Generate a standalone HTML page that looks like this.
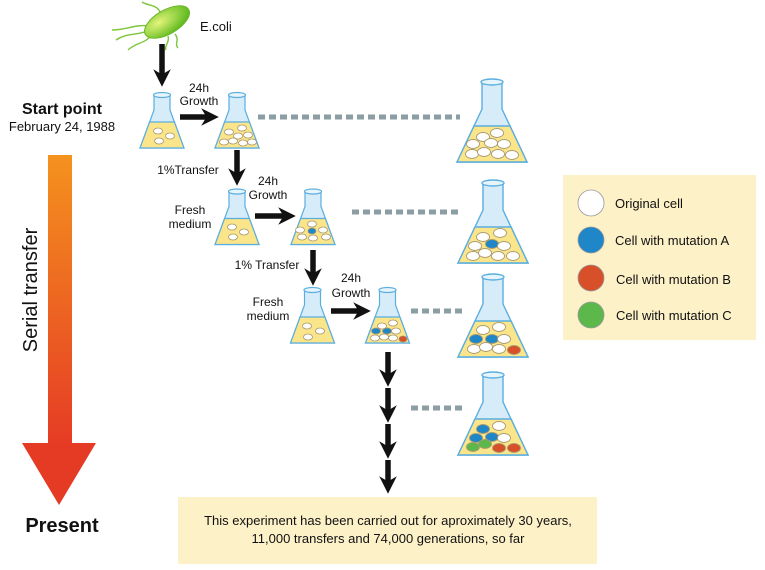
<!DOCTYPE html>
<html><head><meta charset="utf-8"><style>
html,body{margin:0;padding:0;background:#fff;}
svg{display:block;font-family:"Liberation Sans",Arial,sans-serif;}
</style></head><body>
<svg width="765" height="570" viewBox="0 0 765 570" xmlns="http://www.w3.org/2000/svg">
<defs>
<linearGradient id="ga" x1="0" y1="0" x2="0" y2="1"><stop offset="0" stop-color="#f5921e"/><stop offset="1" stop-color="#e53b25"/></linearGradient>
<radialGradient id="gb" cx="0.35" cy="0.35" r="0.7"><stop offset="0" stop-color="#e4f57a"/><stop offset="1" stop-color="#5cb81e"/></radialGradient>
<symbol id="sf" viewBox="0 0 44 56" overflow="visible">
<path d="M14,3 L14,18 L0,56 L44,56 L30,18 L30,3 Z" fill="#d6ecf8" stroke="#5aaee0" stroke-width="1.2"/>
<polygon points="9.6,30 34.4,30 44,56 0,56" fill="#fbe58a" stroke="#5aaee0" stroke-width="1.2"/>
<ellipse cx="22" cy="3" rx="8.5" ry="2.5" fill="#e6f4fb" stroke="#5aaee0" stroke-width="1.2"/>
</symbol>
<symbol id="bf" viewBox="0 0 70 83" overflow="visible">
<path d="M25,3 L25,30 L0,83 L70,83 L45,30 L45,3 Z" fill="#d6ecf8" stroke="#5aaee0" stroke-width="1.4"/>
<polygon points="17,47 53,47 70,83 0,83" fill="#fbe58a" stroke="#5aaee0" stroke-width="1.4"/>
<ellipse cx="35" cy="3" rx="11" ry="3" fill="#e6f4fb" stroke="#5aaee0" stroke-width="1.4"/>
</symbol>
<marker id="ah" viewBox="0 0 10 10" refX="5" refY="5" markerWidth="3.2" markerHeight="3.2" orient="auto"><path d="M0,0 L10,5 L0,10 L3,5 Z" fill="#111"/></marker>
</defs>

<rect x="48" y="155" width="24" height="290" fill="url(#ga)"/>
<polygon points="22,443 96,443 59,505" fill="#e53b25"/>
<text x="62" y="114" font-size="16" font-weight="bold" text-anchor="middle" fill="#111">Start point</text>
<text x="62" y="131" font-size="13" text-anchor="middle" fill="#111">February 24, 1988</text>
<text transform="translate(37,290) rotate(-90)" font-size="20" text-anchor="middle" fill="#111">Serial transfer</text>
<text x="62" y="532" font-size="20" font-weight="bold" text-anchor="middle" fill="#111">Present</text>

<g fill="none" stroke="#7cc63a" stroke-width="1.4">
<path d="M150,30 C138,36 128,32 116,40"/><path d="M148,26 C136,24 126,30 112,30"/><path d="M152,34 C146,44 136,42 128,50"/><path d="M175,34 C180,40 174,44 178,48"/><path d="M168,36 C170,42 164,46 166,50"/><path d="M160,12 C156,4 148,6 142,2"/>
</g>
<ellipse cx="167" cy="22" rx="25" ry="12" transform="rotate(-30 167 22)" fill="url(#gb)" stroke="#6cb52a" stroke-width="1"/>
<text x="200" y="31" font-size="13" fill="#111">E.coli</text>

<g stroke="#111" stroke-width="5.5" marker-end="url(#ah)">
<line x1="162" y1="44" x2="162" y2="78"/>
<line x1="180" y1="117" x2="210" y2="117"/>
<line x1="237" y1="150" x2="237" y2="177"/>
<line x1="255" y1="216" x2="287" y2="216"/>
<line x1="313" y1="250" x2="313" y2="277"/>
<line x1="331" y1="311" x2="362" y2="311"/>
<line x1="388" y1="352" x2="388" y2="378"/>
<line x1="388" y1="388" x2="388" y2="414"/>
<line x1="388" y1="424" x2="388" y2="450"/>
<line x1="388" y1="460" x2="388" y2="485"/>
</g>

<g stroke="#8a9ea4" stroke-width="5" stroke-dasharray="7,4">
<line x1="258" y1="117" x2="460" y2="117"/>
<line x1="352" y1="212" x2="460" y2="212"/>
<line x1="411" y1="311" x2="462" y2="311"/>
<line x1="411" y1="408" x2="462" y2="408"/>
</g>

<g font-size="12" fill="#111" text-anchor="middle">
<text x="199" y="92">24h</text><text x="199" y="105">Growth</text>
<text x="188" y="174">1%Transfer</text>
<text x="190" y="214">Fresh</text><text x="190" y="228">medium</text>
<text x="268" y="185">24h</text><text x="268" y="199">Growth</text>
<text x="267" y="269">1% Transfer</text>
<text x="268" y="306">Fresh</text><text x="268" y="320">medium</text>
<text x="351" y="282">24h</text><text x="351" y="297">Growth</text>
</g>

<use href="#sf" x="140" y="92" width="44" height="56"/>
<use href="#sf" x="215" y="92" width="44" height="56"/>
<use href="#sf" x="215" y="188" width="44" height="57"/>
<use href="#sf" x="291" y="188" width="44" height="57"/>
<use href="#sf" x="290" y="287" width="45" height="56"/>
<use href="#sf" x="365" y="287" width="45" height="56"/>
<use href="#bf" x="457" y="79" width="70" height="83"/>
<use href="#bf" x="458" y="180" width="70" height="83"/>
<use href="#bf" x="458" y="274" width="70" height="83"/>
<use href="#bf" x="458" y="372" width="70" height="83"/>

<g stroke="#a89a70" stroke-width="0.8" fill="#fff">
<ellipse cx="158" cy="131" rx="4.5" ry="3"/><ellipse cx="170" cy="136" rx="4.5" ry="3"/><ellipse cx="159" cy="141" rx="4.5" ry="3"/>
<ellipse cx="242" cy="128" rx="4.5" ry="3"/><ellipse cx="229" cy="132" rx="4.5" ry="3"/><ellipse cx="238" cy="136" rx="4.5" ry="3"/><ellipse cx="248" cy="135" rx="4.5" ry="3"/><ellipse cx="224" cy="142" rx="4.5" ry="3"/><ellipse cx="233" cy="141" rx="4.5" ry="3"/><ellipse cx="243" cy="143" rx="4.5" ry="3"/><ellipse cx="252" cy="142" rx="4.5" ry="3"/>
<ellipse cx="232" cy="227" rx="4.5" ry="3"/><ellipse cx="244" cy="232" rx="4.5" ry="3"/><ellipse cx="233" cy="237" rx="4.5" ry="3"/>
<ellipse cx="312" cy="224" rx="4.5" ry="3"/><ellipse cx="300" cy="230" rx="4.5" ry="3"/><ellipse cx="323" cy="230" rx="4.5" ry="3"/><ellipse cx="302" cy="237" rx="4.5" ry="3"/><ellipse cx="313" cy="238" rx="4.5" ry="3"/><ellipse cx="326" cy="237" rx="4.5" ry="3"/>
<ellipse cx="312" cy="231" rx="4" ry="3" fill="#1f86c8"/>
<ellipse cx="307" cy="326" rx="4.5" ry="3"/><ellipse cx="320" cy="331" rx="4.5" ry="3"/><ellipse cx="308" cy="337" rx="4.5" ry="3"/>
<ellipse cx="382" cy="326" rx="4.5" ry="3"/><ellipse cx="393" cy="323" rx="4.5" ry="3"/><ellipse cx="396" cy="331" rx="4.5" ry="3"/><ellipse cx="375" cy="338" rx="4.5" ry="3"/><ellipse cx="384" cy="337" rx="4.5" ry="3"/><ellipse cx="393" cy="338" rx="4.5" ry="3"/>
<ellipse cx="376" cy="331" rx="4.5" ry="3" fill="#1f86c8"/><ellipse cx="387" cy="331" rx="4.5" ry="3" fill="#1f86c8"/><ellipse cx="403" cy="339" rx="4" ry="3" fill="#d8502a"/>
</g>
<g stroke="#a89a70" stroke-width="0.9" fill="#fff">
<ellipse cx="483" cy="137" rx="6.5" ry="4.5"/><ellipse cx="497" cy="133" rx="6.5" ry="4.5"/><ellipse cx="473" cy="144" rx="6.5" ry="4.5"/><ellipse cx="491" cy="143" rx="6.5" ry="4.5"/><ellipse cx="504" cy="144" rx="6.5" ry="4.5"/><ellipse cx="472" cy="154" rx="6.5" ry="4.5"/><ellipse cx="484" cy="152" rx="6.5" ry="4.5"/><ellipse cx="498" cy="154" rx="6.5" ry="4.5"/><ellipse cx="512" cy="155" rx="6.5" ry="4.5"/>
<ellipse cx="483" cy="237" rx="6.5" ry="4.5"/><ellipse cx="500" cy="233" rx="6.5" ry="4.5"/><ellipse cx="475" cy="246" rx="6.5" ry="4.5"/><ellipse cx="492" cy="244" rx="6.5" ry="4.5" fill="#1f86c8"/><ellipse cx="504" cy="246" rx="6.5" ry="4.5"/><ellipse cx="473" cy="256" rx="6.5" ry="4.5"/><ellipse cx="485" cy="253" rx="6.5" ry="4.5"/><ellipse cx="498" cy="256" rx="6.5" ry="4.5"/><ellipse cx="513" cy="256" rx="6.5" ry="4.5"/>
<ellipse cx="483" cy="330" rx="6.5" ry="4.5"/><ellipse cx="499" cy="327" rx="6.5" ry="4.5"/><ellipse cx="476" cy="339" rx="6.5" ry="4.5" fill="#1f86c8"/><ellipse cx="492" cy="339" rx="6.5" ry="4.5" fill="#1f86c8"/><ellipse cx="504" cy="339" rx="6.5" ry="4.5"/><ellipse cx="474" cy="349" rx="6.5" ry="4.5"/><ellipse cx="486" cy="347" rx="6.5" ry="4.5"/><ellipse cx="499" cy="349" rx="6.5" ry="4.5"/><ellipse cx="514" cy="350" rx="6.5" ry="4.5" fill="#d8502a"/>
<ellipse cx="499" cy="426" rx="6.5" ry="4.5"/><ellipse cx="483" cy="429" rx="6.5" ry="4.5" fill="#1f86c8"/><ellipse cx="476" cy="438" rx="6.5" ry="4.5" fill="#1f86c8"/><ellipse cx="492" cy="437" rx="6.5" ry="4.5" fill="#1f86c8"/><ellipse cx="504" cy="438" rx="6.5" ry="4.5"/><ellipse cx="473" cy="447" rx="6.5" ry="4.5" fill="#5cb84a"/><ellipse cx="485" cy="444" rx="6.5" ry="4.5" fill="#5cb84a"/><ellipse cx="499" cy="448" rx="6.5" ry="4.5" fill="#d8502a"/><ellipse cx="514" cy="448" rx="6.5" ry="4.5" fill="#d8502a"/>
</g>

<rect x="563" y="175" width="193" height="165" fill="#fdf1c8"/>
<g stroke="#999" stroke-width="0.8">
<circle cx="591" cy="203" r="13" fill="#fff"/>
<circle cx="591" cy="240" r="13" fill="#1f86c8"/>
<circle cx="591" cy="278" r="13" fill="#d8502a"/>
<circle cx="591" cy="315" r="13" fill="#5cb84a"/>
</g>
<g font-size="13" fill="#111">
<text x="615" y="208">Original cell</text>
<text x="615" y="245">Cell with mutation A</text>
<text x="616" y="284">Cell with mutation B</text>
<text x="616" y="320">Cell with mutation C</text>
</g>

<rect x="178" y="497" width="419" height="67" fill="#fdf1c8"/>
<g font-size="13" fill="#111" text-anchor="middle">
<text x="388" y="525">This experiment has been carried out for aproximately 30 years,</text>
<text x="388" y="543">11,000 transfers and 74,000 generations, so far</text>
</g>
</svg>
</body></html>
